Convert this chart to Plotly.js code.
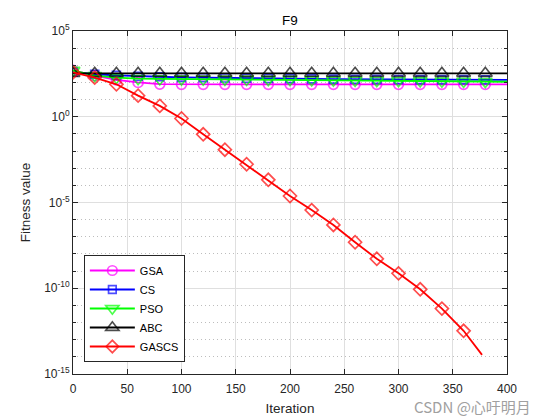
<!DOCTYPE html>
<html>
<head>
<meta charset="utf-8">
<script src="https://cdn.plot.ly/plotly-3.0.1.min.js"></script>
<style>html,body{margin:0;padding:0;background:#fff;}#chart{width:560px;height:420px;}</style>
</head>
<body>
<div id="chart"></div>
<script>
// Iterations where markers are drawn
const iters = [0,20,40,60,80,100,120,140,160,180,200,220,240,260,280,300,320,340,360,380,400];
const gascsIters = [0,20,40,60,80,100,120,140,160,180,200,220,240,260,280,300,320,340,360,377];

const gsa  = [500,250,140,100,80,78,78,78,78,78,78,78,78,78,78,78,78,78,78,78,78];
const cs   = [400,300,260,230,215,200,190,182,176,170,165,160,157,154,151,149,147,146,145,144,143];
const pso  = [500,250,190,165,160,157,154,152,150,148,145,142,138,134,130,126,122,118,115,112,110];
const abc  = [340,340,340,340,340,340,340,340,340,340,340,340,340,340,340,340,340,340,340,340,340];
const gascs = [390,190,78,17,4.3,0.79,0.095,0.012,1.7e-3,2.1e-4,2.4e-5,3.6e-6,4.9e-7,4.8e-8,5.2e-9,7.4e-10,8.7e-11,6.5e-12,3.3e-13,1.3e-14];

const yTickVals = [1e-15,1e-10,1e-5,1,1e5];
const yTickText = ['10<sup>-15</sup>','10<sup>-10</sup>','10<sup>-5</sup>','10<sup>0</sup>','10<sup>5</sup>'];
const xTickVals = [0,50,100,150,200,250,300,350,400];

const names = ['GSA','CS','PSO','ABC','GASCS'];
const colors = ['#ff00ff','#0000ff','#00ff00','#000000','#ff0000'];
const symbols = ['circle-open','square-open','triangle-down-open','triangle-up-open','diamond-open'];
const sizes = [10,8,12,12,10];

function markerSizes(n, s){
  const a = [];
  for(let i=0;i<n;i++) a.push(s);
  a[n-1] = 0;
  return a;
}

const series = [gsa, cs, pso, abc, gascs];
const traces = series.map((ys,i)=>{
  const xs = (i===4) ? gascsIters : iters;
  return {
    x: xs, y: ys, name: names[i], type:'scatter', mode:'lines+markers',
    line:{color:colors[i], width:1.8},
    marker:{symbol:symbols[i], size:markerSizes(xs.length, sizes[i]), color:colors[i], line:{color:colors[i], width:1.7}}
  };
});

const axisColor = '#262626';
const layout = {
  width:560, height:420,
  margin:{l:73, r:53, t:31, b:46},
  paper_bgcolor:'#ffffff', plot_bgcolor:'#ffffff',
  font:{family:'Liberation Sans, Arial, sans-serif', size:12, color:axisColor},
  title:{text:'F9', x:0.5, xref:'paper', y:1-20/420, yref:'container', yanchor:'middle', font:{size:13.5, color:'#000'}},
  showlegend:true,
  legend:{x:0.025, y:0.035, xanchor:'left', yanchor:'bottom', bgcolor:'#ffffff', bordercolor:axisColor, borderwidth:1,
          itemwidth:45, font:{size:11, color:'#000'}},
  xaxis:{
    range:[0,400], tickvals:xTickVals, ticks:'inside', ticklen:5, tickcolor:axisColor, ticklabelstandoff:4,
    showline:true, linecolor:axisColor, linewidth:1, mirror:'ticks',
    showgrid:true, gridcolor:'#dfdfdf', gridwidth:1, zeroline:false,
    title:{text:'Iteration', font:{size:13.5, color:axisColor}, standoff:8},
    tickfont:{size:12, color:axisColor}
  },
  yaxis:{
    type:'log', range:[-15,5], tickvals:yTickVals, ticktext:yTickText, ticks:'inside', ticklen:5, tickcolor:axisColor,
    showline:true, linecolor:axisColor, linewidth:1, mirror:'ticks',
    showgrid:true, gridcolor:'#dfdfdf', gridwidth:1, zeroline:false,
    minor:{dtick:1, ticks:'inside', ticklen:3, tickcolor:axisColor, showgrid:true, gridcolor:'#bdbdbd', griddash:'1px,3px', gridwidth:1},
    title:{text:'Fitness value', font:{size:13.5, color:axisColor}, standoff:10},
    tickfont:{size:12, color:axisColor}
  },
  annotations:[{
    text:'CSDN @心吁明月', xref:'paper', yref:'paper', x:(472-73)/434, y:(374-407)/343,
    xanchor:'center', yanchor:'middle', showarrow:false,
    font:{family:'Noto Sans CJK SC, sans-serif', size:15, color:'#a0a0a0'}
  }]
};

Plotly.newPlot('chart', traces, layout, {displayModeBar:false, staticPlot:true});
</script>
</body>
</html>
